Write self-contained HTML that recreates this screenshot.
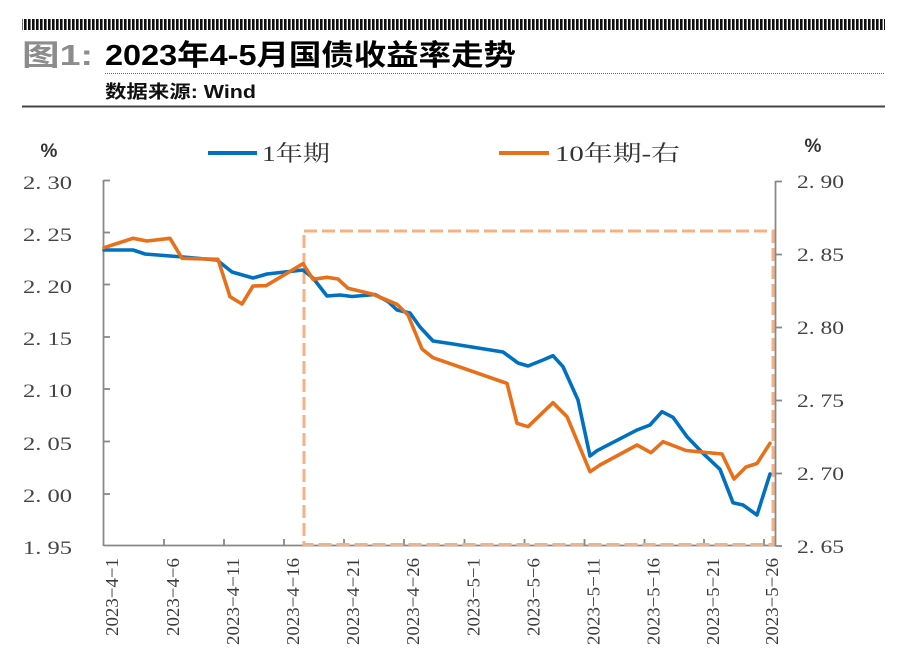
<!DOCTYPE html>
<html>
<head>
<meta charset="utf-8">
<style>
html,body{margin:0;padding:0;background:#fff;}
svg{display:block;}
</style>
</head>
<body>
<svg width="900" height="665" viewBox="0 0 900 665" xmlns="http://www.w3.org/2000/svg">
<defs>
<pattern id="bar" x="0" y="0" width="4" height="12" patternUnits="userSpaceOnUse">
<rect x="0" y="0" width="2.6" height="12" fill="#111"/>
</pattern>
</defs>
<rect width="900" height="665" fill="#fff"/>
<!-- header -->
<rect x="22" y="19" width="863" height="11" fill="url(#bar)"/>
<text x="22" y="65" font-family="'Liberation Sans','Noto Sans CJK SC',sans-serif" font-weight="bold" font-size="29" fill="#8c8c8c" textLength="71" lengthAdjust="spacingAndGlyphs">图1:</text>
<text x="105" y="65" font-family="'Liberation Sans','Noto Sans CJK SC',sans-serif" font-weight="bold" font-size="29" fill="#000" textLength="411" lengthAdjust="spacingAndGlyphs">2023年4-5月国债收益率走势</text>
<line x1="105" y1="73.5" x2="885" y2="73.5" stroke="#666" stroke-width="1" stroke-dasharray="1 1"/>
<text x="105" y="98" font-family="'Liberation Sans','Noto Sans CJK SC',sans-serif" font-weight="bold" font-size="18" fill="#111" textLength="151" lengthAdjust="spacingAndGlyphs">数据来源: Wind</text>
<line x1="22" y1="106.5" x2="885" y2="106.5" stroke="#444" stroke-width="2"/>

<!-- legend -->
<line x1="208" y1="153" x2="257" y2="153" stroke="#0070C0" stroke-width="4"/>
<text x="262" y="161" font-family="'Liberation Serif','Noto Serif CJK SC',serif" font-size="22" fill="#333" textLength="68" lengthAdjust="spacingAndGlyphs">1年期</text>
<line x1="499" y1="153" x2="549" y2="153" stroke="#E8701A" stroke-width="4"/>
<text x="555" y="161" font-family="'Liberation Serif','Noto Serif CJK SC',serif" font-size="22" fill="#333" textLength="125" lengthAdjust="spacingAndGlyphs">10年期-右</text>

<!-- % labels -->
<text x="49" y="157" text-anchor="middle" font-family="'Liberation Sans',sans-serif" font-weight="bold" font-size="19" fill="#333">%</text>
<text x="813" y="152" text-anchor="middle" font-family="'Liberation Sans',sans-serif" font-weight="bold" font-size="19" fill="#333">%</text>

<!-- left axis labels -->
<g font-family="'Liberation Serif',serif" font-size="19" fill="#444" text-anchor="end">
<text x="72" y="189" textLength="49" lengthAdjust="spacingAndGlyphs">2. 30</text>
<text x="72" y="241" textLength="49" lengthAdjust="spacingAndGlyphs">2. 25</text>
<text x="72" y="293" textLength="49" lengthAdjust="spacingAndGlyphs">2. 20</text>
<text x="72" y="345" textLength="49" lengthAdjust="spacingAndGlyphs">2. 15</text>
<text x="72" y="397" textLength="49" lengthAdjust="spacingAndGlyphs">2. 10</text>
<text x="72" y="450" textLength="49" lengthAdjust="spacingAndGlyphs">2. 05</text>
<text x="72" y="502" textLength="49" lengthAdjust="spacingAndGlyphs">2. 00</text>
<text x="72" y="554" textLength="49" lengthAdjust="spacingAndGlyphs">1. 95</text>
</g>
<!-- right axis labels -->
<g font-family="'Liberation Serif',serif" font-size="19" fill="#444">
<text x="797" y="188" textLength="47" lengthAdjust="spacingAndGlyphs">2. 90</text>
<text x="797" y="261" textLength="47" lengthAdjust="spacingAndGlyphs">2. 85</text>
<text x="797" y="334" textLength="47" lengthAdjust="spacingAndGlyphs">2. 80</text>
<text x="797" y="407" textLength="47" lengthAdjust="spacingAndGlyphs">2. 75</text>
<text x="797" y="480" textLength="47" lengthAdjust="spacingAndGlyphs">2. 70</text>
<text x="797" y="553" textLength="47" lengthAdjust="spacingAndGlyphs">2. 65</text>
</g>

<!-- axes -->
<g stroke="#888" stroke-width="1.8" fill="none">
<line x1="103.5" y1="180" x2="103.5" y2="546"/>
<line x1="103.5" y1="545.5" x2="775.5" y2="545.5"/>
<line x1="775.5" y1="181" x2="775.5" y2="546"/>
<line x1="103.5" y1="180.5" x2="110" y2="180.5"/>
<line x1="103.5" y1="232.5" x2="110" y2="232.5"/>
<line x1="103.5" y1="284.5" x2="110" y2="284.5"/>
<line x1="103.5" y1="337" x2="110" y2="337"/>
<line x1="103.5" y1="389" x2="110" y2="389"/>
<line x1="103.5" y1="441.5" x2="110" y2="441.5"/>
<line x1="103.5" y1="494" x2="110" y2="494"/>
<line x1="775.5" y1="181.5" x2="782" y2="181.5"/>
<line x1="775.5" y1="254.5" x2="782" y2="254.5"/>
<line x1="775.5" y1="327.5" x2="782" y2="327.5"/>
<line x1="775.5" y1="400.5" x2="782" y2="400.5"/>
<line x1="775.5" y1="473.5" x2="782" y2="473.5"/>
<line x1="775.5" y1="546" x2="782" y2="546"/>
<line x1="164" y1="545" x2="164" y2="539"/>
<line x1="224" y1="545" x2="224" y2="539"/>
<line x1="284" y1="545" x2="284" y2="539"/>
<line x1="344" y1="545" x2="344" y2="539"/>
<line x1="404" y1="545" x2="404" y2="539"/>
<line x1="464.5" y1="545" x2="464.5" y2="539"/>
<line x1="524.5" y1="545" x2="524.5" y2="539"/>
<line x1="584.5" y1="545" x2="584.5" y2="539"/>
<line x1="644.5" y1="545" x2="644.5" y2="539"/>
<line x1="704" y1="545" x2="704" y2="539"/>
<line x1="764" y1="545" x2="764" y2="539"/>
</g>

<!-- date labels -->
<g font-family="'Liberation Serif',serif" font-size="18" fill="#3a3a3a" text-anchor="end">
<text transform="translate(118,558) rotate(-90)" textLength="78" lengthAdjust="spacingAndGlyphs">2023−4−1</text>
<text transform="translate(179,558) rotate(-90)" textLength="78" lengthAdjust="spacingAndGlyphs">2023−4−6</text>
<text transform="translate(239,558) rotate(-90)" textLength="87" lengthAdjust="spacingAndGlyphs">2023−4−11</text>
<text transform="translate(299,558) rotate(-90)" textLength="87" lengthAdjust="spacingAndGlyphs">2023−4−16</text>
<text transform="translate(359,558) rotate(-90)" textLength="87" lengthAdjust="spacingAndGlyphs">2023−4−21</text>
<text transform="translate(419,558) rotate(-90)" textLength="87" lengthAdjust="spacingAndGlyphs">2023−4−26</text>
<text transform="translate(479.5,558) rotate(-90)" textLength="78" lengthAdjust="spacingAndGlyphs">2023−5−1</text>
<text transform="translate(539.5,558) rotate(-90)" textLength="78" lengthAdjust="spacingAndGlyphs">2023−5−6</text>
<text transform="translate(599.5,558) rotate(-90)" textLength="87" lengthAdjust="spacingAndGlyphs">2023−5−11</text>
<text transform="translate(659.5,558) rotate(-90)" textLength="87" lengthAdjust="spacingAndGlyphs">2023−5−16</text>
<text transform="translate(719,558) rotate(-90)" textLength="87" lengthAdjust="spacingAndGlyphs">2023−5−21</text>
<text transform="translate(778,558) rotate(-90)" textLength="87" lengthAdjust="spacingAndGlyphs">2023−5−26</text>
</g>

<!-- dashed highlight box -->
<rect x="304" y="231" width="469" height="313.5" fill="none" stroke="#F4B183" stroke-width="3" stroke-dasharray="13 5"/>

<!-- series -->
<polyline fill="none" stroke="#0070C0" stroke-width="3.6" stroke-linejoin="round" stroke-linecap="round" points="104,250 133,250 145,254 170,256 183,257 217,260 232,272 253,278 267,274 303,270 313,278 327,296 340,295 352,296.5 375,294.5 388,301.5 397,310 410,313 420,327 433,341 450,343.5 503,352 518,363 528,366 543,360 553,355.7 563,366.7 578,400 590,456 597,450.7 637,430 650,425 662,411.7 673,417.3 687,436.7 703,453.3 720,469.3 733,502.7 743,505 757,515 770,474"/>
<polyline fill="none" stroke="#E8701A" stroke-width="3.6" stroke-linejoin="round" stroke-linecap="round" points="104,247.7 133,238.3 147,241 170,238.3 182,258.3 218,259.3 230,296.7 242,304 253,286 266,285.7 303,263.7 313,279.3 327,277.3 338,279 348,288.3 373,294.3 397,304.3 408,315 422,349 433,357.7 500,381 507,383.3 517,423.3 528,426.7 553,402.7 567,416.7 590,471.7 600,465 637,445 651,452.7 663,441.7 686,450.5 722,454 734,479 746,467 757,463.5 770,443.3"/>
</svg>
</body>
</html>
